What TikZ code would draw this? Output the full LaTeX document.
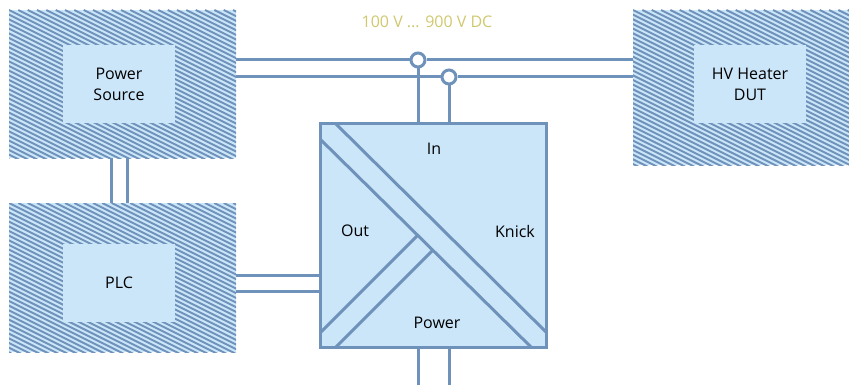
\documentclass[tikz,border=0pt]{standalone}
\usepackage{fontspec}
\setmainfont{Open Sans}
\usetikzlibrary{calc}
\definecolor{frame}{HTML}{6F92BA}
\definecolor{paper}{HTML}{CBE6F9}
\definecolor{volt}{HTML}{CFC86E}
\tikzset{hatch/.style={fill=paper,outer sep=0pt,inner sep=0pt,path picture={%
    \foreach \k in {-45,...,45}
      \draw[frame,line width=1.45pt] ([xshift=\k*7pt]path picture bounding box.north west) -- ++(240pt,-120pt);}},
  inbox/.style={fill=paper,minimum width=84pt,minimum height=57.75pt,inner sep=0pt,align=center},
  convbox/.style={draw=frame,fill=paper,line width=2.25pt,outer sep=0pt,minimum width=169.5pt,minimum height=168pt},
  wire/.style={draw=frame,line width=2.25pt},
  tap/.style={circle,draw=frame,fill=white,line width=2.25pt,minimum size=10.5pt,inner sep=0pt},
  part/.style={inner sep=0pt}}

\begin{document}
\begin{tikzpicture}[x=0.75pt,y=-0.75pt,font=\fontsize{12}{15.75}\selectfont]
\useasboundingbox (0,0) rectangle (849,385);
\node[hatch,minimum width=170.25pt,minimum height=111pt] (src) at (122.5,84) {};
\node[inbox] (srcin) at (119,84) {Power\\Source};
\node[hatch,minimum width=170.25pt,minimum height=111.75pt] (plc) at (122.5,277.5) {};
\node[inbox,minimum height=58.5pt] (plcin) at (119,283) {PLC};
\node[hatch,minimum width=162pt,minimum height=116.25pt] (dut) at (741,87.5) {};
\node[inbox] (dutin) at (750,84) {HV Heater\\DUT};
\node[convbox] (conv) at (433.5,235.5) {};
\coordinate (bot) at (0,385);
% bands inside the converter
\draw[wire] ($(conv.north west)+(15,0)$) -- ($(conv.south east)+(0,-15)$);
\draw[wire] (conv.west |- 0,139.5) coordinate (ba) -- ($(conv.south east)+(-15,0)$) coordinate (bb);
\draw[wire] ($(conv.south west)+(0,-15)$) -- (intersection of ba--bb and {$(conv.south west)+(0,-15)$}--{$(conv.south west)+(200,-215)$});
\draw[wire] ($(conv.south west)+(15,0)$) -- (intersection of ba--bb and {$(conv.south west)+(15,0)$}--{$(conv.south west)+(215,-200)$});
\node[part] (in) at (434,149) {In};
\node[part] (out) at (355,231) {Out};
\node[part] (knick) at (515,231) {Knick};
\node[part] (pwr) at (437,323) {Power};
\node[text=volt] (range) at (427,22) {100 V ... 900 V DC};
\node[tap] (t1) at (418,60) {};
\node[tap] (t2) at (449,77) {};
\draw[wire] (src.east |- t1) -- (t1) (t1) -- (dut.west |- t1);
\draw[wire] (src.east |- t2) -- (t2) (t2) -- (dut.west |- t2);
\draw[wire] (t1) -- (t1 |- conv.north);
\draw[wire] (t2) -- (t2 |- conv.north);
\draw[wire] (t1 |- conv.south) -- (t1 |- bot);
\draw[wire] (t2 |- conv.south) -- (t2 |- bot);
\draw[wire] ([xshift=-6pt]srcin.center |- src.south) -- ([xshift=-6pt]srcin.center |- plc.north);
\draw[wire] ([xshift=6pt]srcin.center |- src.south) -- ([xshift=6pt]srcin.center |- plc.north);
\draw[wire] ([yshift=6pt]plcin.center -| plc.east) -- ([yshift=6pt]plcin.center -| conv.west);
\draw[wire] ([yshift=-6pt]plcin.center -| plc.east) -- ([yshift=-6pt]plcin.center -| conv.west);
\end{tikzpicture}
\end{document}
